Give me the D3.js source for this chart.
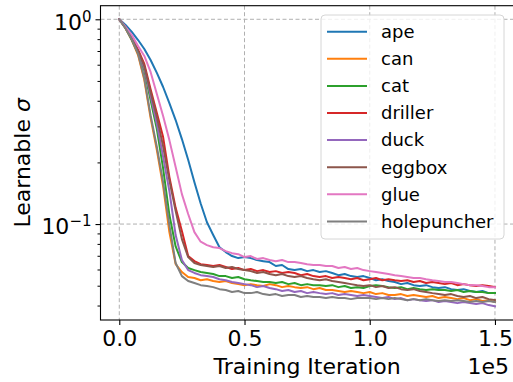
<!DOCTYPE html>
<html>
<head>
<meta charset="utf-8">
<script src="https://cdn.jsdelivr.net/npm/d3@7"></script>
<style>
  body { margin: 0; background: #fff; }
  svg { display: block; font-family: "DejaVu Sans", sans-serif; }
</style>
</head>
<body>
<div id="chart"></div>
<script>
// iterations sampled every 2500 steps, 0 .. 150000
var iterations = d3.range(0, 150001, 2500);

var names = ["ape", "can", "cat", "driller", "duck", "eggbox", "glue", "holepuncher"];
var colors = ["#1f77b4", "#ff7f0e", "#2ca02c", "#d62728", "#9467bd", "#8c564b", "#e377c2", "#7f7f7f"];

var ape = [1.000, .938, .867, .792, .716, .633, .547, .467, .390, .322, .260, .206, .160, .126, .102, .0884,
  .0771, .0730, .0698, .0682, .0690, .0682, .0667, .0659, .0652, .0624, .0631, .0603, .0596, .0603, .0589,
  .0596, .0583, .0589, .0577, .0563, .0570, .0557, .0551, .0557, .0545, .0532, .0538, .0527, .0521, .0509,
  .0515, .0503, .0498, .0503, .0492, .0487, .0492, .0481, .0476, .0481, .0471, .0466, .0471, .0460, .0460];
var can = [1.000, .902, .792, .669, .505, .330, .230, .153, .0913, .0637, .0583, .0551, .0545, .0532, .0538,
  .0527, .0521, .0527, .0515, .0509, .0503, .0509, .0503, .0498, .0509, .0503, .0492, .0498, .0492, .0487,
  .0492, .0481, .0487, .0476, .0476, .0471, .0466, .0471, .0466, .0460, .0466, .0455, .0460, .0450, .0450,
  .0455, .0445, .0450, .0445, .0440, .0445, .0435, .0440, .0435, .0430, .0435, .0425, .0430, .0421, .0425, .0416];
var cat = [1.000, .906, .792, .684, .561, .403, .291, .187, .111, .0777, .0652, .0610, .0596, .0583, .0577,
  .0570, .0557, .0557, .0545, .0551, .0538, .0532, .0527, .0521, .0521, .0515, .0521, .0509, .0515, .0503,
  .0509, .0503, .0503, .0498, .0503, .0492, .0498, .0487, .0492, .0487, .0498, .0503, .0498, .0492, .0487,
  .0492, .0481, .0487, .0481, .0476, .0481, .0476, .0476, .0471, .0476, .0466, .0471, .0466, .0466, .0460, .0460];
var driller = [1.000, .912, .810, .710, .605, .456, .349, .266, .170, .120, .0924, .0698, .0659, .0637, .0631,
  .0624, .0631, .0617, .0603, .0610, .0596, .0603, .0589, .0596, .0583, .0589, .0577, .0583, .0577, .0563,
  .0570, .0557, .0551, .0557, .0545, .0551, .0545, .0538, .0545, .0532, .0538, .0545, .0532, .0538, .0532,
  .0527, .0532, .0521, .0527, .0515, .0521, .0515, .0509, .0515, .0503, .0509, .0503, .0498, .0503, .0498, .0492];
var duck = [1.000, .908, .800, .690, .578, .423, .308, .213, .145, .0884, .0667, .0596, .0577, .0563, .0557,
  .0551, .0538, .0532, .0521, .0515, .0509, .0503, .0492, .0498, .0487, .0481, .0471, .0476, .0466, .0471,
  .0460, .0466, .0460, .0455, .0460, .0450, .0455, .0450, .0445, .0450, .0445, .0440, .0435, .0440, .0430,
  .0435, .0425, .0430, .0425, .0421, .0425, .0416, .0421, .0416, .0411, .0416, .0411, .0407, .0411, .0402, .0397];
var eggbox = [1.000, .910, .805, .700, .590, .442, .333, .240, .164, .116, .0844, .0690, .0645, .0631, .0624,
  .0617, .0624, .0610, .0617, .0603, .0596, .0589, .0577, .0583, .0570, .0563, .0570, .0557, .0551, .0557,
  .0545, .0538, .0532, .0538, .0527, .0521, .0515, .0509, .0503, .0498, .0503, .0492, .0498, .0487, .0492,
  .0481, .0476, .0481, .0471, .0466, .0460, .0455, .0450, .0455, .0445, .0440, .0445, .0435, .0440, .0430, .0425];
var glue = [1.000, .917, .838, .740, .662, .553, .432, .337, .257, .190, .140, .112, .0913, .0820, .0789,
  .0770, .0763, .0738, .0721, .0713, .0690, .0698, .0675, .0682, .0667, .0659, .0667, .0652, .0652, .0645,
  .0637, .0631, .0631, .0624, .0624, .0610, .0617, .0603, .0610, .0596, .0589, .0583, .0577, .0570, .0563,
  .0557, .0551, .0545, .0545, .0538, .0532, .0527, .0521, .0521, .0515, .0509, .0503, .0503, .0498, .0492, .0492];
var holepuncher = [1.000, .905, .798, .678, .515, .340, .238, .160, .0989, .0645, .0557, .0527, .0515, .0503,
  .0498, .0492, .0481, .0476, .0466, .0471, .0460, .0460, .0466, .0455, .0450, .0455, .0445, .0450, .0450,
  .0440, .0445, .0440, .0440, .0435, .0440, .0435, .0435, .0430, .0435, .0435, .0435, .0430, .0435, .0430,
  .0435, .0430, .0425, .0430, .0425, .0430, .0425, .0421, .0425, .0421, .0425, .0421, .0416, .0421, .0416, .0421, .0416];

var seriesValues = [ape, can, cat, driller, duck, eggbox, glue, holepuncher];

var xTicks = [0, 50000, 100000, 150000];
var yTicks = [0.1, 1];
var yMinorTicks = [0.04, 0.05, 0.06, 0.07, 0.08, 0.09, 0.2, 0.3, 0.4, 0.5, 0.6, 0.7, 0.8, 0.9];

var width = 513, height = 382;
var margin = {top: 5.7, right: -0.75, bottom: 62, left: 100.5};
var innerW = width - margin.left - margin.right,
    innerH = height - margin.top - margin.bottom;

var svg = d3.select("#chart").append("svg")
    .attr("width", width)
    .attr("height", height);

var x = d3.scaleLinear()
    .domain([-7500, 157500])
    .range([0, innerW]);

var y = d3.scaleLog()
    .domain([0.034, 1.165])
    .range([innerH, 0]);

var g = svg.append("g").attr("transform", "translate(" + margin.left + "," + margin.top + ")");

// grid
g.append("g").selectAll("line")
    .data(xTicks)
    .enter().append("line")
      .attr("x1", function(d) { return x(d); })
      .attr("x2", function(d) { return x(d); })
      .attr("y1", 0)
      .attr("y2", innerH)
      .attr("stroke", "#b0b0b0")
      .attr("stroke-width", 1)
      .attr("stroke-dasharray", "4,2.5");

g.append("g").selectAll("line")
    .data(yTicks)
    .enter().append("line")
      .attr("x1", 0)
      .attr("x2", innerW)
      .attr("y1", function(d) { return y(d); })
      .attr("y2", function(d) { return y(d); })
      .attr("stroke", "#b0b0b0")
      .attr("stroke-width", 1)
      .attr("stroke-dasharray", "4,2.5");

// lines
var line = d3.line()
    .x(function(d, i) { return x(iterations[i]); })
    .y(function(d) { return y(d); });

g.append("g").selectAll("path")
    .data(seriesValues)
    .enter().append("path")
      .attr("fill", "none")
      .attr("stroke", function(d, i) { return colors[i]; })
      .attr("stroke-width", 2)
      .attr("stroke-linejoin", "round")
      .attr("stroke-linecap", "square")
      .attr("d", line);

// axes
var xAxis = g.append("g")
    .attr("transform", "translate(0," + innerH + ")")
    .call(d3.axisBottom(x).tickValues(xTicks).tickSize(5).tickPadding(5)
      .tickFormat(function(d) { return (d / 1e5).toFixed(1); }));

var yAxis = g.append("g")
    .call(d3.axisLeft(y).tickValues(yTicks).tickSize(5).tickPadding(4));

g.append("g")
    .call(d3.axisLeft(y).tickValues(yMinorTicks).tickSize(3).tickFormat(""))
  .select(".domain").remove();

[xAxis, yAxis].forEach(function(a) {
  a.selectAll("text").attr("fill", "#000").style("font-size", "22px").style("font-family", "DejaVu Sans");
  a.selectAll("line").attr("stroke", "#000").attr("stroke-width", 1.1);
  a.select(".domain").remove();
});
g.selectAll(".tick line").attr("stroke", "#000");

// y tick labels as powers of ten
yAxis.selectAll(".tick text")
    .attr("dy", "0.45em")
    .each(function(d) {
      var t = d3.select(this);
      var p = Math.round(Math.log10(d));
      t.text(null);
      t.append("tspan").text("10");
      t.append("tspan").attr("dy", -8).style("font-size", "15px")
        .text(p < 0 ? "\u2212" + (-p) : String(p));
    });

// spines
g.append("rect")
    .attr("width", innerW)
    .attr("height", innerH)
    .attr("fill", "none")
    .attr("stroke", "#000")
    .attr("stroke-width", 1.1);

// labels
svg.append("text")
    .attr("x", margin.left + innerW / 2)
    .attr("y", 374)
    .attr("text-anchor", "middle")
    .style("font-size", "22px")
    .text("Training Iteration");

svg.append("text")
    .attr("x", 509)
    .attr("y", 374)
    .attr("text-anchor", "end")
    .style("font-size", "22px")
    .text("1e5");

var ylab = svg.append("text")
    .attr("transform", "translate(30," + (margin.top + innerH / 2) + ") rotate(-90)")
    .attr("text-anchor", "middle")
    .style("font-size", "22px");
ylab.append("tspan").text("Learnable ");
ylab.append("tspan").style("font-style", "italic").text("\u03c3");

// legend
var legend = svg.append("g").attr("transform", "translate(321,15)");
legend.append("rect")
    .attr("width", 183)
    .attr("height", 224)
    .attr("rx", 4)
    .attr("fill", "#fff")
    .attr("fill-opacity", 0.8)
    .attr("stroke", "#d6d6d6")
    .attr("stroke-width", 1);

var item = legend.selectAll(".item")
    .data(names)
    .enter().append("g")
      .attr("class", "item")
      .attr("transform", function(d, i) { return "translate(0," + (16.7 + i * 27.1) + ")"; });

item.append("line")
    .attr("x1", 6).attr("x2", 46)
    .attr("stroke", function(d, i) { return colors[i]; })
    .attr("stroke-width", 2);

item.append("text")
    .attr("x", 60)
    .attr("dy", "0.35em")
    .style("font-size", "18px")
    .text(function(d) { return d; });
</script>
</body>
</html>
